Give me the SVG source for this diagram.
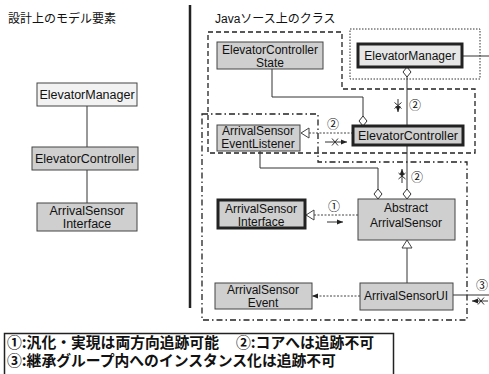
<svg xmlns="http://www.w3.org/2000/svg" width="489" height="374" viewBox="0 0 489 374">
<style>
.t{font-family:"Liberation Sans",Arial,sans-serif;font-size:12.5px;fill:#111;text-anchor:middle}
.ts{font-family:"Liberation Sans",Arial,sans-serif;font-size:12px;fill:#111;text-anchor:middle}
.jp{font-family:"Liberation Sans","Noto Sans CJK JP",sans-serif;font-size:12px;fill:#111}
.num{font-family:"Noto Sans CJK JP",sans-serif;font-size:12px;fill:#111;text-anchor:middle}
.leg{font-family:"Noto Sans CJK JP",sans-serif;font-size:14.8px;font-weight:bold;fill:#111}
.box{fill:#cfcfcf;stroke:#444;stroke-width:1}
.boxw{fill:#f2f2f2;stroke:#444;stroke-width:1}
.core{fill:#cfcfcf;stroke:#222;stroke-width:3}
.corew{fill:#e6e6e6;stroke:#222;stroke-width:3}
.line{fill:none;stroke:#333;stroke-width:1}
.dot{fill:none;stroke:#444;stroke-width:1;stroke-dasharray:2 1.5}
.gA{fill:none;stroke:#222;stroke-width:1.3;stroke-dasharray:5 3}
.gB{fill:none;stroke:#222;stroke-width:1.3;stroke-dasharray:6 3 1.5 3}
.gC{fill:none;stroke:#333;stroke-width:1;stroke-dasharray:1.5 1.5}
</style>
<defs>
<marker id="dia" viewBox="-1 -5 12 10" markerWidth="12" markerHeight="10" refX="0" refY="0" orient="auto" markerUnits="userSpaceOnUse">
<path d="M0,0 L5,-4 L10,0 L5,4 Z" fill="#fff" stroke="#333" stroke-width="1"/>
</marker>
<marker id="tri" viewBox="-1 -6 10 12" markerWidth="10" markerHeight="12" refX="8" refY="0" orient="auto" markerUnits="userSpaceOnUse">
<path d="M0,-5 L8,0 L0,5 Z" fill="#fff" stroke="#444" stroke-width="1"/>
</marker>
<marker id="arr" viewBox="0 -3 6 6" markerWidth="6" markerHeight="6" refX="6" refY="0" orient="auto" markerUnits="userSpaceOnUse">
<path d="M0,-2.5 L6,0 L0,2.5 Z" fill="#222"/>
</marker>
</defs>
<rect width="489" height="374" fill="#fff"/>

<text class="jp" x="8" y="23">設計上のモデル要素</text>
<text class="jp" x="215" y="23">Javaソース上のクラス</text>
<line x1="190" y1="5" x2="190" y2="308" stroke="#222" stroke-width="2.5"/>

<g id="groups">
<path class="gA" d="M208,32 H342 V89 H475 V153 H208 Z"/>
<path class="gB" d="M202,114 H318 V162 H467 V320 H202 Z"/>
<rect class="gC" x="350" y="29" width="130" height="50"/>
</g>

<g id="connectors">
<line class="line" x1="87" y1="106" x2="87" y2="147"/>
<line class="line" x1="87" y1="170" x2="87" y2="203"/>
<path class="line" d="M363,126 V97 H272 V69" marker-start="url(#dia)"/>
<path class="line" d="M407,67 V126" marker-start="url(#dia)"/>
<path class="line" d="M407,199 V145" marker-start="url(#dia)"/>
<path class="line" d="M378,199 V168 H260 V151" marker-start="url(#dia)"/>
<path class="dot" d="M353,133 H301" marker-end="url(#tri)"/>
<path class="dot" d="M358,215 H306" marker-end="url(#tri)"/>
<path class="line" d="M407,283 V240" stroke="#555" marker-end="url(#tri)"/>
<path class="dot" d="M360,296 H312" marker-end="url(#arr)"/>
<path class="line" d="M462,56 H489"/>
<path class="line" d="M453,295 H489"/>
</g>

<g id="annotations">
<text class="num" x="415" y="110">②</text>
<path class="line" d="M398,99 V112" marker-end="url(#arr)"/>
<path class="line" d="M394.5,102.5 L401.5,108.5 M401.5,102.5 L394.5,108.5"/>
<text class="num" x="417" y="182">②</text>
<path class="line" d="M402,183 V169" marker-end="url(#arr)"/>
<path class="line" d="M398.5,173 L405.5,179 M405.5,173 L398.5,179"/>
<text class="num" x="333" y="129">②</text>
<path class="line" d="M325,142 H347" marker-end="url(#arr)"/>
<path class="line" d="M332,138.5 L338,145.5 M338,138.5 L332,145.5"/>
<text class="num" x="334" y="211">①</text>
<path class="line" d="M327,222 H343" marker-end="url(#arr)"/>
<text class="num" x="482" y="290">③</text>
<path class="line" d="M488,301 H472" marker-end="url(#arr)"/>
<path class="line" d="M478,297.5 L484,304.5 M484,297.5 L478,304.5"/>
</g>

<g id="L-ElevatorManager">
<rect class="boxw" x="37" y="83" width="100" height="23"/>
<text class="t" x="87" y="99">ElevatorManager</text>
</g>
<g id="L-ElevatorController">
<rect class="box" x="32" y="147" width="106" height="23"/>
<text class="t" x="85" y="163">ElevatorController</text>
</g>
<g id="L-ArrivalSensorInterface">
<rect class="box" x="37" y="203" width="100" height="28"/>
<text class="t" x="87" y="215">ArrivalSensor</text>
<text class="t" x="87" y="228">Interface</text>
</g>

<g id="R-ElevatorControllerState">
<rect class="box" x="217" y="42" width="106" height="27"/>
<text class="ts" x="270" y="54">ElevatorController</text>
<text class="ts" x="270" y="67">State</text>
</g>
<g id="R-ElevatorManager">
<rect class="corew" x="358" y="44" width="104" height="23"/>
<text class="ts" x="410" y="60">ElevatorManager</text>
</g>
<g id="R-ElevatorController">
<rect class="core" x="353" y="126" width="110" height="19"/>
<text class="t" x="408" y="140">ElevatorController</text>
</g>
<g id="R-ArrivalSensorEventListener">
<rect class="box" x="217" y="125" width="83" height="26"/>
<text class="ts" x="258" y="135">ArrivalSensor</text>
<text class="ts" x="258" y="148">EventListener</text>
</g>
<g id="R-ArrivalSensorInterface">
<rect class="core" x="218" y="200" width="87" height="28"/>
<text class="ts" x="261" y="213">ArrivalSensor</text>
<text class="ts" x="261" y="226">Interface</text>
</g>
<g id="R-AbstractArrivalSensor">
<rect class="box" x="358" y="199" width="97" height="41"/>
<text class="ts" x="406" y="212">Abstract</text>
<text class="ts" x="406" y="227">ArrivalSensor</text>
</g>
<g id="R-ArrivalSensorEvent">
<rect class="box" x="215" y="283" width="97" height="26"/>
<text class="ts" x="263" y="294">ArrivalSensor</text>
<text class="ts" x="263" y="307">Event</text>
</g>
<g id="R-ArrivalSensorUI">
<rect class="box" x="360" y="283" width="93" height="27"/>
<text class="ts" x="406" y="300">ArrivalSensorUI</text>
</g>

<g id="legend">
<rect x="4.5" y="333.5" width="389" height="45" fill="#fff" stroke="#222" stroke-width="1.5"/>
<text class="leg" x="7" y="348">①:汎化・実現は両方向追跡可能<tspan x="236">②:コアへは追跡不可</tspan></text>
<text class="leg" x="7" y="366">③:継承グループ内へのインスタンス化は追跡不可</text>
</g>
</svg>
